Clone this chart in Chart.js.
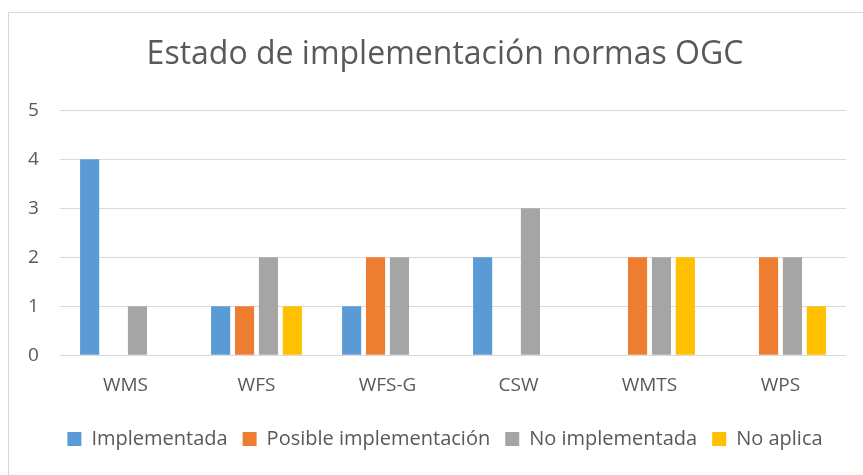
<html>
<head>
<meta charset="utf-8">
<title>Estado de implementación normas OGC</title>
<script src="https://cdn.jsdelivr.net/npm/chart.js@4.4.1/dist/chart.umd.min.js"></script>
<style>
  body { margin: 0; background: #fff; }
  #wrap { position: absolute; left: 0; top: 0; width: 863px; height: 475px; }
</style>
</head>
<body>
<div id="wrap"><canvas id="ogc_chart"></canvas></div>
<script>
  // datos del grafico
  var normas = ["WMS", "WFS", "WFS-G", "CSW", "WMTS", "WPS"];
  var implementada = [4, 1, 1, 2, 0, 0];
  var posible = [0, 1, 2, 0, 2, 2];
  var no_implementada = [1, 2, 2, 3, 2, 2];
  var no_aplica = [0, 1, 0, 0, 2, 1];
  var y_ticks = [0, 1, 2, 3, 4, 5];

  var txt = "#595959";
  var fam = "'Open Sans', 'Liberation Sans', sans-serif";

  // marco exterior del grafico (como en Excel)
  var frame = {
    id: "frame",
    beforeDraw(chart) {
      var c = chart.ctx;
      c.save();
      c.strokeStyle = "#d9d9d9";
      c.lineWidth = 1;
      c.beginPath();
      c.moveTo(8.5, 475);
      c.lineTo(8.5, 12.5);
      c.lineTo(863, 12.5);
      c.stroke();
      c.restore();
    }
  };

  var ctx = document.getElementById("ogc_chart").getContext("2d");
  let chart = new Chart(ctx, {
    type: "bar",
    data: {
      labels: normas,
      datasets: [
        { label: "Implementada", data: implementada, backgroundColor: "#5b9bd5" },
        { label: "Posible implementación", data: posible, backgroundColor: "#ed7d31" },
        { label: "No implementada", data: no_implementada, backgroundColor: "#a5a5a5" },
        { label: "No aplica", data: no_aplica, backgroundColor: "#ffc000" }
      ]
    },
    options: {
      animation: false,
      responsive: true,
      maintainAspectRatio: false,
      datasets: { bar: { categoryPercentage: 0.73, barPercentage: 0.8 } },
      layout: { padding: { left: 44, right: 17, top: 36, bottom: 16 } },
      plugins: {
        title: {
          display: true,
          text: "Estado de implementación normas OGC",
          color: txt,
          font: { family: fam, size: 32, weight: "normal" },
          padding: { top: 0, bottom: 36 }
        },
        legend: {
          position: "bottom",
          labels: {
            color: txt,
            font: { family: fam, size: 20 },
            boxWidth: 14,
            boxHeight: 14,
            padding: 15
          }
        },
        tooltip: { enabled: false }
      },
      scales: {
        x: {
          afterFit: (axis) => { axis.height = axis.height + 6; },
          grid: { display: false },
          border: { display: false },
          ticks: { color: txt, font: { family: fam, size: 19 }, padding: 11 }
        },
        y: {
          min: 0,
          max: 5,
          afterBuildTicks: (axis) => { axis.ticks = y_ticks.map(v => ({ value: v })); },
          afterFit: (axis) => { axis.width = 16; },
          grid: { color: "#d9d9d9", drawTicks: false },
          border: { display: false },
          // etiquetas fuera del area del eje (mirror evita el recorte)
          ticks: { color: txt, font: { family: fam, size: 19 }, mirror: true, crossAlign: "far", padding: -32 }
        }
      }
    },
    plugins: [frame]
  });
</script>
</body>
</html>
